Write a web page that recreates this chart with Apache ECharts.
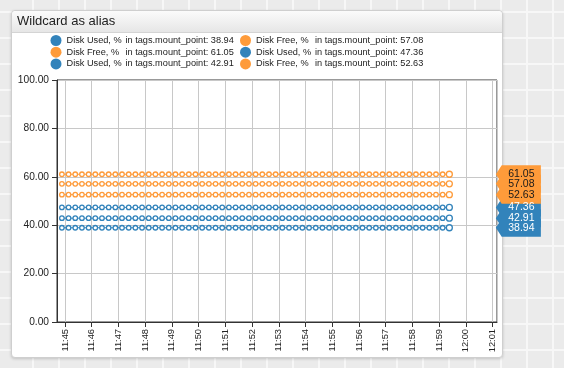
<!DOCTYPE html>
<html>
<head>
<meta charset="utf-8">
<script src="https://cdn.jsdelivr.net/npm/echarts@6/dist/echarts.min.js"></script>
<style>
  html, body { margin: 0; padding: 0; }
  body {
    width: 564px; height: 368px; position: relative; overflow: hidden;
    background-color: #ebebeb;
    background-image:
      repeating-linear-gradient(90deg, transparent 0 24px, #f7f7f7 24px 26px),
      repeating-linear-gradient(0deg, transparent 0 24px, #f7f7f7 24px 26px);
    background-position: 8px 7px;
  }
  #panel {
    position: absolute; left: 11px; top: 10px; width: 490px; height: 346px;
    background: #fff; border: 1px solid #cfcfcf; border-radius: 4px;
    box-shadow: 0 1px 3px rgba(0,0,0,0.18);
  }
  #hdr {
    position: absolute; left: 0; top: 0; right: 0; height: 21px;
    background: linear-gradient(#fbfbfb, #e6e6e6);
    border-bottom: 1px solid #d4d4d4; border-radius: 4px 4px 0 0;
  }
  #chart { position: absolute; left: 0; top: 0; width: 564px; height: 368px; }
</style>
</head>
<body>
<div id="panel"><div id="hdr"></div></div>
<div id="chart"></div>
<script>
// ---- data ----
const titleText = 'Wildcard as alias';
const times = [
  '11:44:53',
  '11:45:08','11:45:23','11:45:38','11:45:53',
  '11:46:08','11:46:23','11:46:38','11:46:53',
  '11:47:08','11:47:23','11:47:38','11:47:53',
  '11:48:08','11:48:23','11:48:38','11:48:53',
  '11:49:08','11:49:23','11:49:38','11:49:53',
  '11:50:08','11:50:23','11:50:38','11:50:53',
  '11:51:08','11:51:23','11:51:38','11:51:53',
  '11:52:08','11:52:23','11:52:38','11:52:53',
  '11:53:08','11:53:23','11:53:38','11:53:53',
  '11:54:08','11:54:23','11:54:38','11:54:53',
  '11:55:08','11:55:23','11:55:38','11:55:53',
  '11:56:08','11:56:23','11:56:38','11:56:53',
  '11:57:08','11:57:23','11:57:38','11:57:53',
  '11:58:08','11:58:23','11:58:38','11:58:53',
  '11:59:08','11:59:23'
];
const diskUsed1 = [
  38.94,38.94,38.94,38.94,38.94,38.94,38.94,38.94,38.94,38.94,
  38.94,38.94,38.94,38.94,38.94,38.94,38.94,38.94,38.94,38.94,
  38.94,38.94,38.94,38.94,38.94,38.94,38.94,38.94,38.94,38.94,
  38.94,38.94,38.94,38.94,38.94,38.94,38.94,38.94,38.94,38.94,
  38.94,38.94,38.94,38.94,38.94,38.94,38.94,38.94,38.94,38.94,
  38.94,38.94,38.94,38.94,38.94,38.94,38.94,38.94,38.94
];
const diskFree1 = [
  57.08,57.08,57.08,57.08,57.08,57.08,57.08,57.08,57.08,57.08,
  57.08,57.08,57.08,57.08,57.08,57.08,57.08,57.08,57.08,57.08,
  57.08,57.08,57.08,57.08,57.08,57.08,57.08,57.08,57.08,57.08,
  57.08,57.08,57.08,57.08,57.08,57.08,57.08,57.08,57.08,57.08,
  57.08,57.08,57.08,57.08,57.08,57.08,57.08,57.08,57.08,57.08,
  57.08,57.08,57.08,57.08,57.08,57.08,57.08,57.08,57.08
];
const diskFree2 = [
  61.05,61.05,61.05,61.05,61.05,61.05,61.05,61.05,61.05,61.05,
  61.05,61.05,61.05,61.05,61.05,61.05,61.05,61.05,61.05,61.05,
  61.05,61.05,61.05,61.05,61.05,61.05,61.05,61.05,61.05,61.05,
  61.05,61.05,61.05,61.05,61.05,61.05,61.05,61.05,61.05,61.05,
  61.05,61.05,61.05,61.05,61.05,61.05,61.05,61.05,61.05,61.05,
  61.05,61.05,61.05,61.05,61.05,61.05,61.05,61.05,61.05
];
const diskUsed2 = [
  47.36,47.36,47.36,47.36,47.36,47.36,47.36,47.36,47.36,47.36,
  47.36,47.36,47.36,47.36,47.36,47.36,47.36,47.36,47.36,47.36,
  47.36,47.36,47.36,47.36,47.36,47.36,47.36,47.36,47.36,47.36,
  47.36,47.36,47.36,47.36,47.36,47.36,47.36,47.36,47.36,47.36,
  47.36,47.36,47.36,47.36,47.36,47.36,47.36,47.36,47.36,47.36,
  47.36,47.36,47.36,47.36,47.36,47.36,47.36,47.36,47.36
];
const diskUsed3 = [
  42.91,42.91,42.91,42.91,42.91,42.91,42.91,42.91,42.91,42.91,
  42.91,42.91,42.91,42.91,42.91,42.91,42.91,42.91,42.91,42.91,
  42.91,42.91,42.91,42.91,42.91,42.91,42.91,42.91,42.91,42.91,
  42.91,42.91,42.91,42.91,42.91,42.91,42.91,42.91,42.91,42.91,
  42.91,42.91,42.91,42.91,42.91,42.91,42.91,42.91,42.91,42.91,
  42.91,42.91,42.91,42.91,42.91,42.91,42.91,42.91,42.91
];
const diskFree3 = [
  52.63,52.63,52.63,52.63,52.63,52.63,52.63,52.63,52.63,52.63,
  52.63,52.63,52.63,52.63,52.63,52.63,52.63,52.63,52.63,52.63,
  52.63,52.63,52.63,52.63,52.63,52.63,52.63,52.63,52.63,52.63,
  52.63,52.63,52.63,52.63,52.63,52.63,52.63,52.63,52.63,52.63,
  52.63,52.63,52.63,52.63,52.63,52.63,52.63,52.63,52.63,52.63,
  52.63,52.63,52.63,52.63,52.63,52.63,52.63,52.63,52.63
];
const seriesLabels = ['Disk Used, %', 'Disk Free, %', 'Disk Free, %', 'Disk Used, %', 'Disk Used, %', 'Disk Free, %'];
const seriesTags = [
  'in tags.mount_point: 38.94', 'in tags.mount_point: 57.08',
  'in tags.mount_point: 61.05', 'in tags.mount_point: 47.36',
  'in tags.mount_point: 42.91', 'in tags.mount_point: 52.63'
];
const seriesValues = [diskUsed1, diskFree1, diskFree2, diskUsed2, diskUsed3, diskFree3];
const yTicks = { min: 0, max: 100, interval: 20 };
const xRange = { min: '11:44:42', max: '12:01:10' };

// ---- styling / build ----
const DAY = '2024-01-01T';
const toDate = t => new Date(DAY + t).getTime();
const BLUE = '#3283bb', ORANGE = '#fe9b3a';
const FONT = '"Liberation Sans", Arial, sans-serif';
const LEG_FS = 9.2;
const colorOf = lbl => lbl.indexOf('Used') >= 0 ? BLUE : ORANGE;
const names = seriesLabels.map((l, i) => l + '  ' + seriesTags[i]);
const drawOrder = [3, 4, 0, 2, 1, 5];
const lastIdx = times.length - 1;

// measure label widths so the "in tags" column aligns
const mctx = document.createElement('canvas').getContext('2d');
mctx.font = LEG_FS + 'px ' + FONT;
const COL_A = 59;
const padFor = s => Math.max(2, COL_A - mctx.measureText(s).width);

const series = drawOrder.map(i => {
  const c = colorOf(seriesLabels[i]);
  const vals = seriesValues[i];
  const data = times.map((t, k) => [toDate(t), vals[k]]);
  return {
    name: names[i], type: 'line', data: data, color: c,
    symbol: 'circle',
    symbolSize: (v, p) => p.dataIndex === lastIdx ? 6 : 4.5,
    itemStyle: { color: '#fff', borderColor: c, borderWidth: 1.3 },
    lineStyle: { color: c, width: 1 },
    emphasis: { disabled: true },
    markPoint: {
      symbol: 'path://M0,9L6,0L46,0L46,18L6,18Z',
      symbolSize: [45, 18],
      symbolKeepAspect: false,
      symbolOffset: [69, 0],
      itemStyle: { color: c, borderWidth: 0 },
      label: {
        show: true, position: 'inside', offset: [3, 0],
        color: c === BLUE ? '#fff' : '#1a1a1a',
        fontFamily: FONT, fontSize: 10.5,
        formatter: p => p.value.toFixed(2)
      },
      data: [{ coord: data[lastIdx], value: vals[lastIdx] }]
    }
  };
});

function makeLegend(left, idxs) {
  const rich = { b: { fontFamily: FONT, fontSize: LEG_FS, color: '#222', lineHeight: 12 } };
  idxs.forEach(i => {
    rich['a' + i] = { fontFamily: FONT, fontSize: LEG_FS, color: '#222', lineHeight: 12,
                      padding: [0, padFor(seriesLabels[i]), 0, 0] };
  });
  return {
    data: idxs.map(i => ({ name: names[i], itemStyle: { color: colorOf(seriesLabels[i]), borderWidth: 0 } })),
    left: left, top: 35, orient: 'vertical',
    icon: 'circle', itemWidth: 11, itemHeight: 11, itemGap: 0.7,
    selectedMode: false, padding: 0,
    textStyle: { fontFamily: FONT, fontSize: LEG_FS, color: '#222', rich: rich },
    formatter: n => {
      const i = names.indexOf(n);
      return '{a' + i + '|' + seriesLabels[i] + '}{b|' + seriesTags[i] + '}';
    }
  };
}

const option = {
  animation: false,
  title: {
    text: titleText, left: 17, top: 15, padding: 0,
    textStyle: { fontFamily: FONT, fontSize: 13, fontWeight: 'normal', color: '#222' }
  },
  legend: [makeLegend(50.5, [0, 2, 4]), makeLegend(240, [1, 3, 5])],
  grid: { left: 57, top: 80, right: 67, bottom: 46, show: true, borderColor: '#333', borderWidth: 1, backgroundColor: '#fff' },
  xAxis: {
    type: 'time', min: toDate(xRange.min), max: toDate(xRange.max),
    interval: 60 * 1000, minInterval: 60 * 1000, maxInterval: 60 * 1000,
    axisLine: { lineStyle: { color: '#333' } },
    axisTick: { show: true, length: 5, lineStyle: { color: '#333' } },
    splitLine: { show: true, lineStyle: { color: '#c8c8c8' } },
    axisLabel: {
      rotate: 90, margin: 7, fontFamily: FONT, fontSize: 9.3, color: '#222',
      hideOverlap: false, showMinLabel: false, showMaxLabel: false,
      formatter: v => {
        const d = new Date(v);
        return String(d.getHours()).padStart(2, '0') + ':' + String(d.getMinutes()).padStart(2, '0');
      }
    }
  },
  yAxis: {
    type: 'value', min: yTicks.min, max: yTicks.max, interval: yTicks.interval,
    axisLine: { show: true, lineStyle: { color: '#333' } },
    axisTick: { show: true, length: 5, lineStyle: { color: '#333' } },
    splitLine: { show: true, lineStyle: { color: '#c8c8c8' } },
    axisLabel: { margin: 8, fontFamily: FONT, fontSize: 10.2, color: '#222', formatter: v => v.toFixed(2) }
  },
  series: series
};

const chart = echarts.init(document.getElementById('chart'), null, { renderer: 'canvas' });
chart.setOption(option);
</script>
</body>
</html>
